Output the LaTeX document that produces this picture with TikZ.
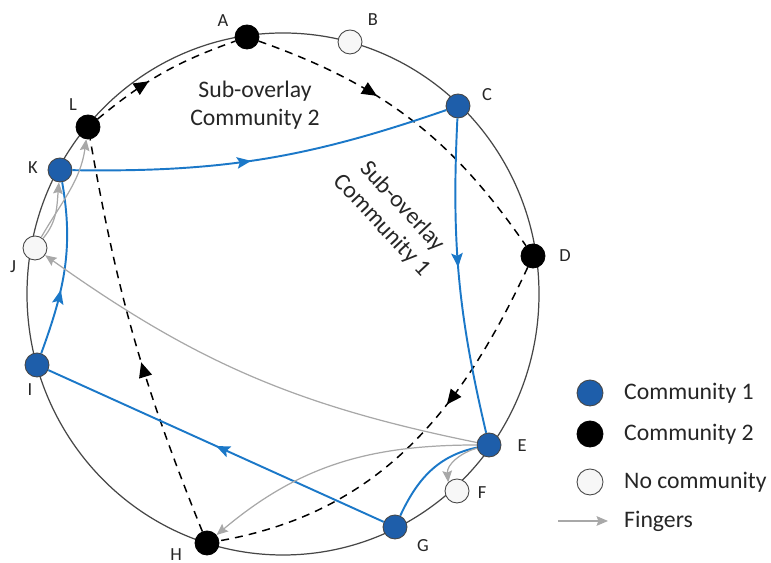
\documentclass[tikz,border=0pt]{standalone}
\usepackage{fontspec}
\setmainfont{Carlito}
\usetikzlibrary{arrows.meta,decorations.markings}

\definecolor{nodeblue}{RGB}{30,94,170}
\definecolor{lineblue}{RGB}{27,120,200}
\definecolor{fingergray}{RGB}{168,168,168}
\definecolor{ringgray}{RGB}{70,70,70}

\begin{document}
\begin{tikzpicture}[x=0.02cm,y=0.02cm,
    peer/.style={circle, draw=ringgray, line width=0.5pt, minimum size=0.48cm, inner sep=0pt},
    comm1/.style={peer, fill=nodeblue},
    comm2/.style={peer, fill=black, draw=black},
    nocomm/.style={peer, fill=gray!6},
    lbl/.style={font=\fontsize{10.5}{12}\selectfont, text=black!85},
    txt/.style={font=\fontsize{13.5}{16}\selectfont, text=black!85, align=center},
    blackmid/.style={dashed, dash pattern=on 4.5pt off 3.5pt, line width=0.85pt, postaction={decorate},
        decoration={markings, mark=at position #1 with {\arrow{Triangle[length=8.5pt,width=7.5pt]}}}},
    bluemid/.style={lineblue, line width=1.1pt, postaction={decorate},
        decoration={markings, mark=at position #1 with {\arrow{Stealth[length=8pt,width=6.5pt,inset=1.5pt]}}}},
    blueline/.style={lineblue, line width=1.1pt},
    finger/.style={fingergray, line width=0.7pt, -{Stealth[length=6.5pt,width=5.5pt,inset=1pt]}}
]
\useasboundingbox (0,0) rectangle (771,563);

% Ring
\draw[ringgray, line width=0.7pt] (283,269) ellipse (256 and 261);

% Peers
\node[comm2] (a) at (247,526) {};
\node[nocomm] (b) at (350,521) {};
\node[comm1] (c) at (458,457) {};
\node[comm2] (d) at (533,307) {};
\node[comm1] (e) at (489,118) {};
\node[nocomm] (f) at (457,72) {};
\node[comm1] (g) at (395,36) {};
\node[comm2] (h) at (207,20) {};
\node[comm1] (i) at (37,198) {};
\node[nocomm] (j) at (35,315) {};
\node[comm1] (k) at (60,393) {};
\node[comm2] (l) at (88,436) {};

% Labels
\node[lbl] at (223,542) {A};
\node[lbl] at (373,543) {B};
\node[lbl] at (487,468) {C};
\node[lbl] at (565,307) {D};
\node[lbl] at (522,117) {E};
\node[lbl] at (482,70) {F};
\node[lbl] at (423,17) {G};
\node[lbl] at (176,8) {H};
\node[lbl] at (30,173) {I};
\node[lbl] at (13,296) {J};
\node[lbl] at (33,395) {K};
\node[lbl] at (73,458) {L};

% Sub-overlay Community 2
\draw[blackmid=0.4] (l) to[bend left=10] (a);
\draw[blackmid=0.38] (a) to[bend left=18] (d);
\draw[blackmid=0.37] (d) to[out=-115,in=10] (h);
\draw[blackmid=0.44] (h) to[out=112,in=-80] (l);

% Sub-overlay Community 1
\draw[bluemid=0.47] (k) to[bend right=10] (c);
\draw[bluemid=0.47] (c) to[bend right=8] (e);
\draw[blueline] (e) to[out=192,in=65] (g);
\draw[bluemid=0.5] (g) -- (i);
\draw[bluemid=0.38] (i) to[out=70,in=-80] (k);

% Fingers
\draw[finger] (e) to[bend left=12] (j);
\draw[finger] (e) to[out=180,in=40] (h);
\draw[finger] (e) to[out=195,in=95] (f.north west);
\draw[finger] (j) to[out=50,in=-95] (k);
\draw[finger] (j) to[out=60,in=-98] (l);

% Texts
\node[txt] (sub2) at (255,458) {Sub-overlay\\Community 2};
\node[txt, rotate=-47] (sub1) at (392,347) {Sub-overlay\\Community 1};

% Legend
\node[comm1, minimum size=0.52cm] (leg1) at (590,170) {};
\node[comm2, minimum size=0.52cm] (leg2) at (590,129) {};
\node[nocomm, minimum size=0.52cm] (leg3) at (590,81) {};
\coordinate (leg4a) at (558,42);
\coordinate (leg4b) at (608,42);
\draw[finger] (leg4a) -- (leg4b);
\node[txt, anchor=west] at (618,170) {Community 1};
\node[txt, anchor=west] at (618,129) {Community 2};
\node[txt, anchor=west] at (618,81) {No community};
\node[txt, anchor=west] at (618,42) {Fingers};

\end{tikzpicture}
\end{document}
